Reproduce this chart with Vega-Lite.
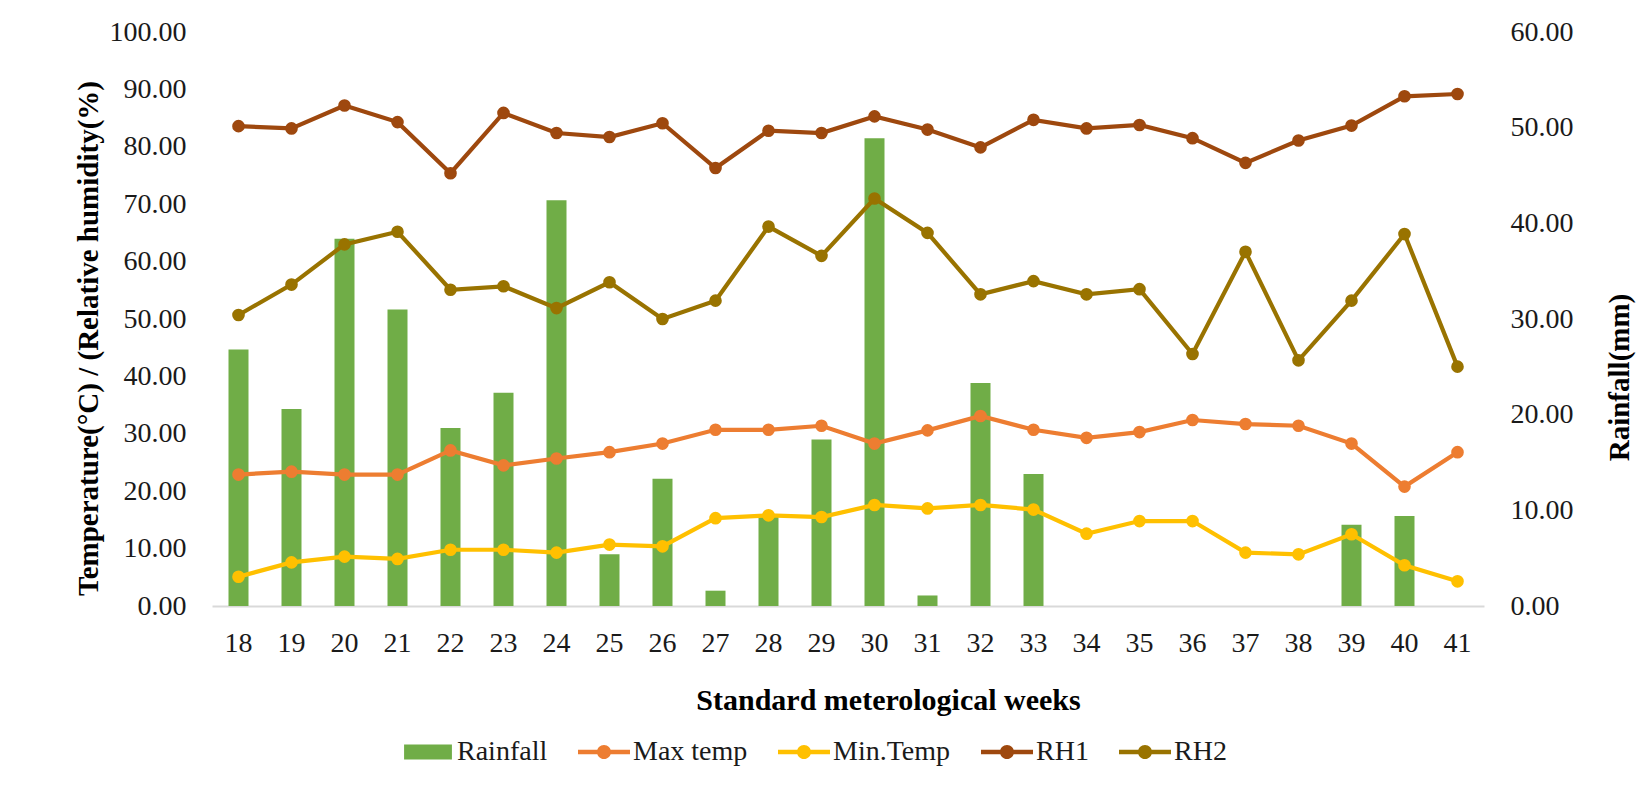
{
  "$schema": "https://vega.github.io/schema/vega-lite/v6.json",
  "width": 1272,
  "height": 574,
  "autosize": {"type": "none"},
  "padding": {"left": 212, "top": 32, "right": 164, "bottom": 183},
  "background": "white",
  "config": {"view": {"stroke": null}, "font": "Liberation Serif", "axis": {"grid": false}},
  "datasets": {
    "met": [
      {"week": 18, "series": "Rainfall", "value": 26.8}, {"week": 19, "series": "Rainfall", "value": 20.6}, {"week": 20, "series": "Rainfall", "value": 38.4}, {"week": 21, "series": "Rainfall", "value": 31.0}, {"week": 22, "series": "Rainfall", "value": 18.6}, {"week": 23, "series": "Rainfall", "value": 22.3}, {"week": 24, "series": "Rainfall", "value": 42.4}, {"week": 25, "series": "Rainfall", "value": 5.4}, {"week": 26, "series": "Rainfall", "value": 13.3}, {"week": 27, "series": "Rainfall", "value": 1.6}, {"week": 28, "series": "Rainfall", "value": 9.6}, {"week": 29, "series": "Rainfall", "value": 17.4}, {"week": 30, "series": "Rainfall", "value": 48.9}, {"week": 31, "series": "Rainfall", "value": 1.1}, {"week": 32, "series": "Rainfall", "value": 23.3}, {"week": 33, "series": "Rainfall", "value": 13.8}, {"week": 34, "series": "Rainfall", "value": 0}, {"week": 35, "series": "Rainfall", "value": 0}, {"week": 36, "series": "Rainfall", "value": 0}, {"week": 37, "series": "Rainfall", "value": 0}, {"week": 38, "series": "Rainfall", "value": 0}, {"week": 39, "series": "Rainfall", "value": 8.5}, {"week": 40, "series": "Rainfall", "value": 9.4}, {"week": 41, "series": "Rainfall", "value": 0},
      {"week": 18, "series": "Max temp", "value": 22.9}, {"week": 19, "series": "Max temp", "value": 23.4}, {"week": 20, "series": "Max temp", "value": 22.9}, {"week": 21, "series": "Max temp", "value": 22.9}, {"week": 22, "series": "Max temp", "value": 27.1}, {"week": 23, "series": "Max temp", "value": 24.5}, {"week": 24, "series": "Max temp", "value": 25.7}, {"week": 25, "series": "Max temp", "value": 26.8}, {"week": 26, "series": "Max temp", "value": 28.3}, {"week": 27, "series": "Max temp", "value": 30.7}, {"week": 28, "series": "Max temp", "value": 30.7}, {"week": 29, "series": "Max temp", "value": 31.4}, {"week": 30, "series": "Max temp", "value": 28.3}, {"week": 31, "series": "Max temp", "value": 30.6}, {"week": 32, "series": "Max temp", "value": 33.1}, {"week": 33, "series": "Max temp", "value": 30.7}, {"week": 34, "series": "Max temp", "value": 29.3}, {"week": 35, "series": "Max temp", "value": 30.3}, {"week": 36, "series": "Max temp", "value": 32.4}, {"week": 37, "series": "Max temp", "value": 31.7}, {"week": 38, "series": "Max temp", "value": 31.4}, {"week": 39, "series": "Max temp", "value": 28.3}, {"week": 40, "series": "Max temp", "value": 20.8}, {"week": 41, "series": "Max temp", "value": 26.8},
      {"week": 18, "series": "Min.Temp", "value": 5.1}, {"week": 19, "series": "Min.Temp", "value": 7.6}, {"week": 20, "series": "Min.Temp", "value": 8.6}, {"week": 21, "series": "Min.Temp", "value": 8.2}, {"week": 22, "series": "Min.Temp", "value": 9.8}, {"week": 23, "series": "Min.Temp", "value": 9.8}, {"week": 24, "series": "Min.Temp", "value": 9.3}, {"week": 25, "series": "Min.Temp", "value": 10.7}, {"week": 26, "series": "Min.Temp", "value": 10.4}, {"week": 27, "series": "Min.Temp", "value": 15.3}, {"week": 28, "series": "Min.Temp", "value": 15.8}, {"week": 29, "series": "Min.Temp", "value": 15.5}, {"week": 30, "series": "Min.Temp", "value": 17.6}, {"week": 31, "series": "Min.Temp", "value": 17.0}, {"week": 32, "series": "Min.Temp", "value": 17.6}, {"week": 33, "series": "Min.Temp", "value": 16.8}, {"week": 34, "series": "Min.Temp", "value": 12.6}, {"week": 35, "series": "Min.Temp", "value": 14.8}, {"week": 36, "series": "Min.Temp", "value": 14.8}, {"week": 37, "series": "Min.Temp", "value": 9.3}, {"week": 38, "series": "Min.Temp", "value": 9.0}, {"week": 39, "series": "Min.Temp", "value": 12.5}, {"week": 40, "series": "Min.Temp", "value": 7.1}, {"week": 41, "series": "Min.Temp", "value": 4.3},
      {"week": 18, "series": "RH1", "value": 83.6}, {"week": 19, "series": "RH1", "value": 83.2}, {"week": 20, "series": "RH1", "value": 87.2}, {"week": 21, "series": "RH1", "value": 84.3}, {"week": 22, "series": "RH1", "value": 75.4}, {"week": 23, "series": "RH1", "value": 85.9}, {"week": 24, "series": "RH1", "value": 82.4}, {"week": 25, "series": "RH1", "value": 81.7}, {"week": 26, "series": "RH1", "value": 84.1}, {"week": 27, "series": "RH1", "value": 76.3}, {"week": 28, "series": "RH1", "value": 82.8}, {"week": 29, "series": "RH1", "value": 82.4}, {"week": 30, "series": "RH1", "value": 85.3}, {"week": 31, "series": "RH1", "value": 83.0}, {"week": 32, "series": "RH1", "value": 79.9}, {"week": 33, "series": "RH1", "value": 84.7}, {"week": 34, "series": "RH1", "value": 83.2}, {"week": 35, "series": "RH1", "value": 83.8}, {"week": 36, "series": "RH1", "value": 81.5}, {"week": 37, "series": "RH1", "value": 77.2}, {"week": 38, "series": "RH1", "value": 81.1}, {"week": 39, "series": "RH1", "value": 83.7}, {"week": 40, "series": "RH1", "value": 88.8}, {"week": 41, "series": "RH1", "value": 89.2},
      {"week": 18, "series": "RH2", "value": 50.7}, {"week": 19, "series": "RH2", "value": 56.0}, {"week": 20, "series": "RH2", "value": 63.0}, {"week": 21, "series": "RH2", "value": 65.2}, {"week": 22, "series": "RH2", "value": 55.1}, {"week": 23, "series": "RH2", "value": 55.7}, {"week": 24, "series": "RH2", "value": 51.9}, {"week": 25, "series": "RH2", "value": 56.4}, {"week": 26, "series": "RH2", "value": 50.0}, {"week": 27, "series": "RH2", "value": 53.2}, {"week": 28, "series": "RH2", "value": 66.1}, {"week": 29, "series": "RH2", "value": 61.0}, {"week": 30, "series": "RH2", "value": 71.0}, {"week": 31, "series": "RH2", "value": 65.0}, {"week": 32, "series": "RH2", "value": 54.3}, {"week": 33, "series": "RH2", "value": 56.6}, {"week": 34, "series": "RH2", "value": 54.3}, {"week": 35, "series": "RH2", "value": 55.2}, {"week": 36, "series": "RH2", "value": 43.9}, {"week": 37, "series": "RH2", "value": 61.7}, {"week": 38, "series": "RH2", "value": 42.8}, {"week": 39, "series": "RH2", "value": 53.2}, {"week": 40, "series": "RH2", "value": 64.8}, {"week": 41, "series": "RH2", "value": 41.7}
    ]
  },
  "data": {"name": "met"},
  "layer": [
    {
      "transform": [{"filter": "datum.series === 'Rainfall'"}],
      "mark": {"type": "bar", "width": 20},
      "encoding": {
        "x": {
          "field": "week", "type": "ordinal",
          "scale": {"paddingInner": 0, "paddingOuter": 0},
          "axis": {
            "title": "Standard meterological weeks",
            "labelAngle": 0, "labelFontSize": 28, "labelColor": "#1a1a1a", "labelBaseline": "top", "labelPadding": 23,
            "ticks": false, "tickSize": 0,
            "domain": true, "domainColor": "#D9D9D9", "domainWidth": 2,
            "titleFontSize": 30, "titleFontWeight": "bold", "titleColor": "#000",
            "titleX": 676, "titleY": 79, "titleBaseline": "top", "titleAlign": "center"
          }
        },
        "y": {
          "field": "value", "type": "quantitative",
          "scale": {"domain": [0, 60], "nice": false},
          "axis": {
            "orient": "right", "title": "Rainfall(mm)",
            "values": [0, 10, 20, 30, 40, 50, 60], "format": ".2f",
            "labelFontSize": 28, "labelColor": "#1a1a1a", "labelPadding": 26,
            "ticks": false, "tickSize": 0, "domain": false,
            "titleFontSize": 29, "titleFontWeight": "bold", "titleColor": "#000",
            "titleAngle": 270, "titleX": 135, "titleY": 345, "titleAlign": "center", "titleBaseline": "middle"
          }
        },
        "color": {
          "field": "series", "type": "nominal",
          "scale": {
            "domain": ["Rainfall", "Max temp", "Min.Temp", "RH1", "RH2"],
            "range": ["#70AD47", "#ED7D31", "#FFC000", "#9E480E", "#997300"]
          },
          "legend": {
            "title": null, "orient": "none", "direction": "horizontal",
            "legendX": 190, "legendY": 694,
            "symbolSize": 2704, "labelFontSize": 28, "labelColor": "#1a1a1a", "labelOffset": 3,
            "columnPadding": 30,
            "encode": {
              "symbols": {
                "update": {
                  "shape": {"signal": "datum.value === 'Rainfall' ? 'M-0.92,-0.29H0.92V0.29H-0.92Z' : 'M-1,-0.085H1V0.085H-1Z M0.27,0A0.27,0.27 0 1,1 -0.27,0A0.27,0.27 0 1,1 0.27,0Z'"},
                  "fill": {"scale": "color", "field": "value"},
                  "stroke": {"value": "transparent"},
                  "strokeWidth": {"value": 0},
                  "opacity": {"value": 1}
                }
              }
            }
          }
        }
      }
    },
    {
      "transform": [{"filter": "datum.series !== 'Rainfall'"}],
      "encoding": {
        "x": {"field": "week", "type": "ordinal"},
        "y": {
          "field": "value", "type": "quantitative",
          "scale": {"domain": [0, 100], "nice": false},
          "axis": {
            "orient": "left", "title": "Temperature(°C) / (Relative humidity(%)",
            "values": [0, 10, 20, 30, 40, 50, 60, 70, 80, 90, 100], "format": ".2f",
            "labelFontSize": 28, "labelColor": "#1a1a1a", "labelPadding": 26,
            "ticks": false, "tickSize": 0, "domain": false,
            "titleFontSize": 29, "titleFontWeight": "bold", "titleColor": "#000",
            "titleAngle": 270, "titleX": -124, "titleY": 306, "titleAlign": "center", "titleBaseline": "middle"
          }
        },
        "color": {"field": "series", "type": "nominal"}
      },
      "layer": [
        {"mark": {"type": "line", "strokeWidth": 4.2}},
        {"mark": {"type": "point", "filled": true, "size": 160, "opacity": 1}}
      ]
    }
  ],
  "resolve": {"scale": {"y": "independent"}}
}
